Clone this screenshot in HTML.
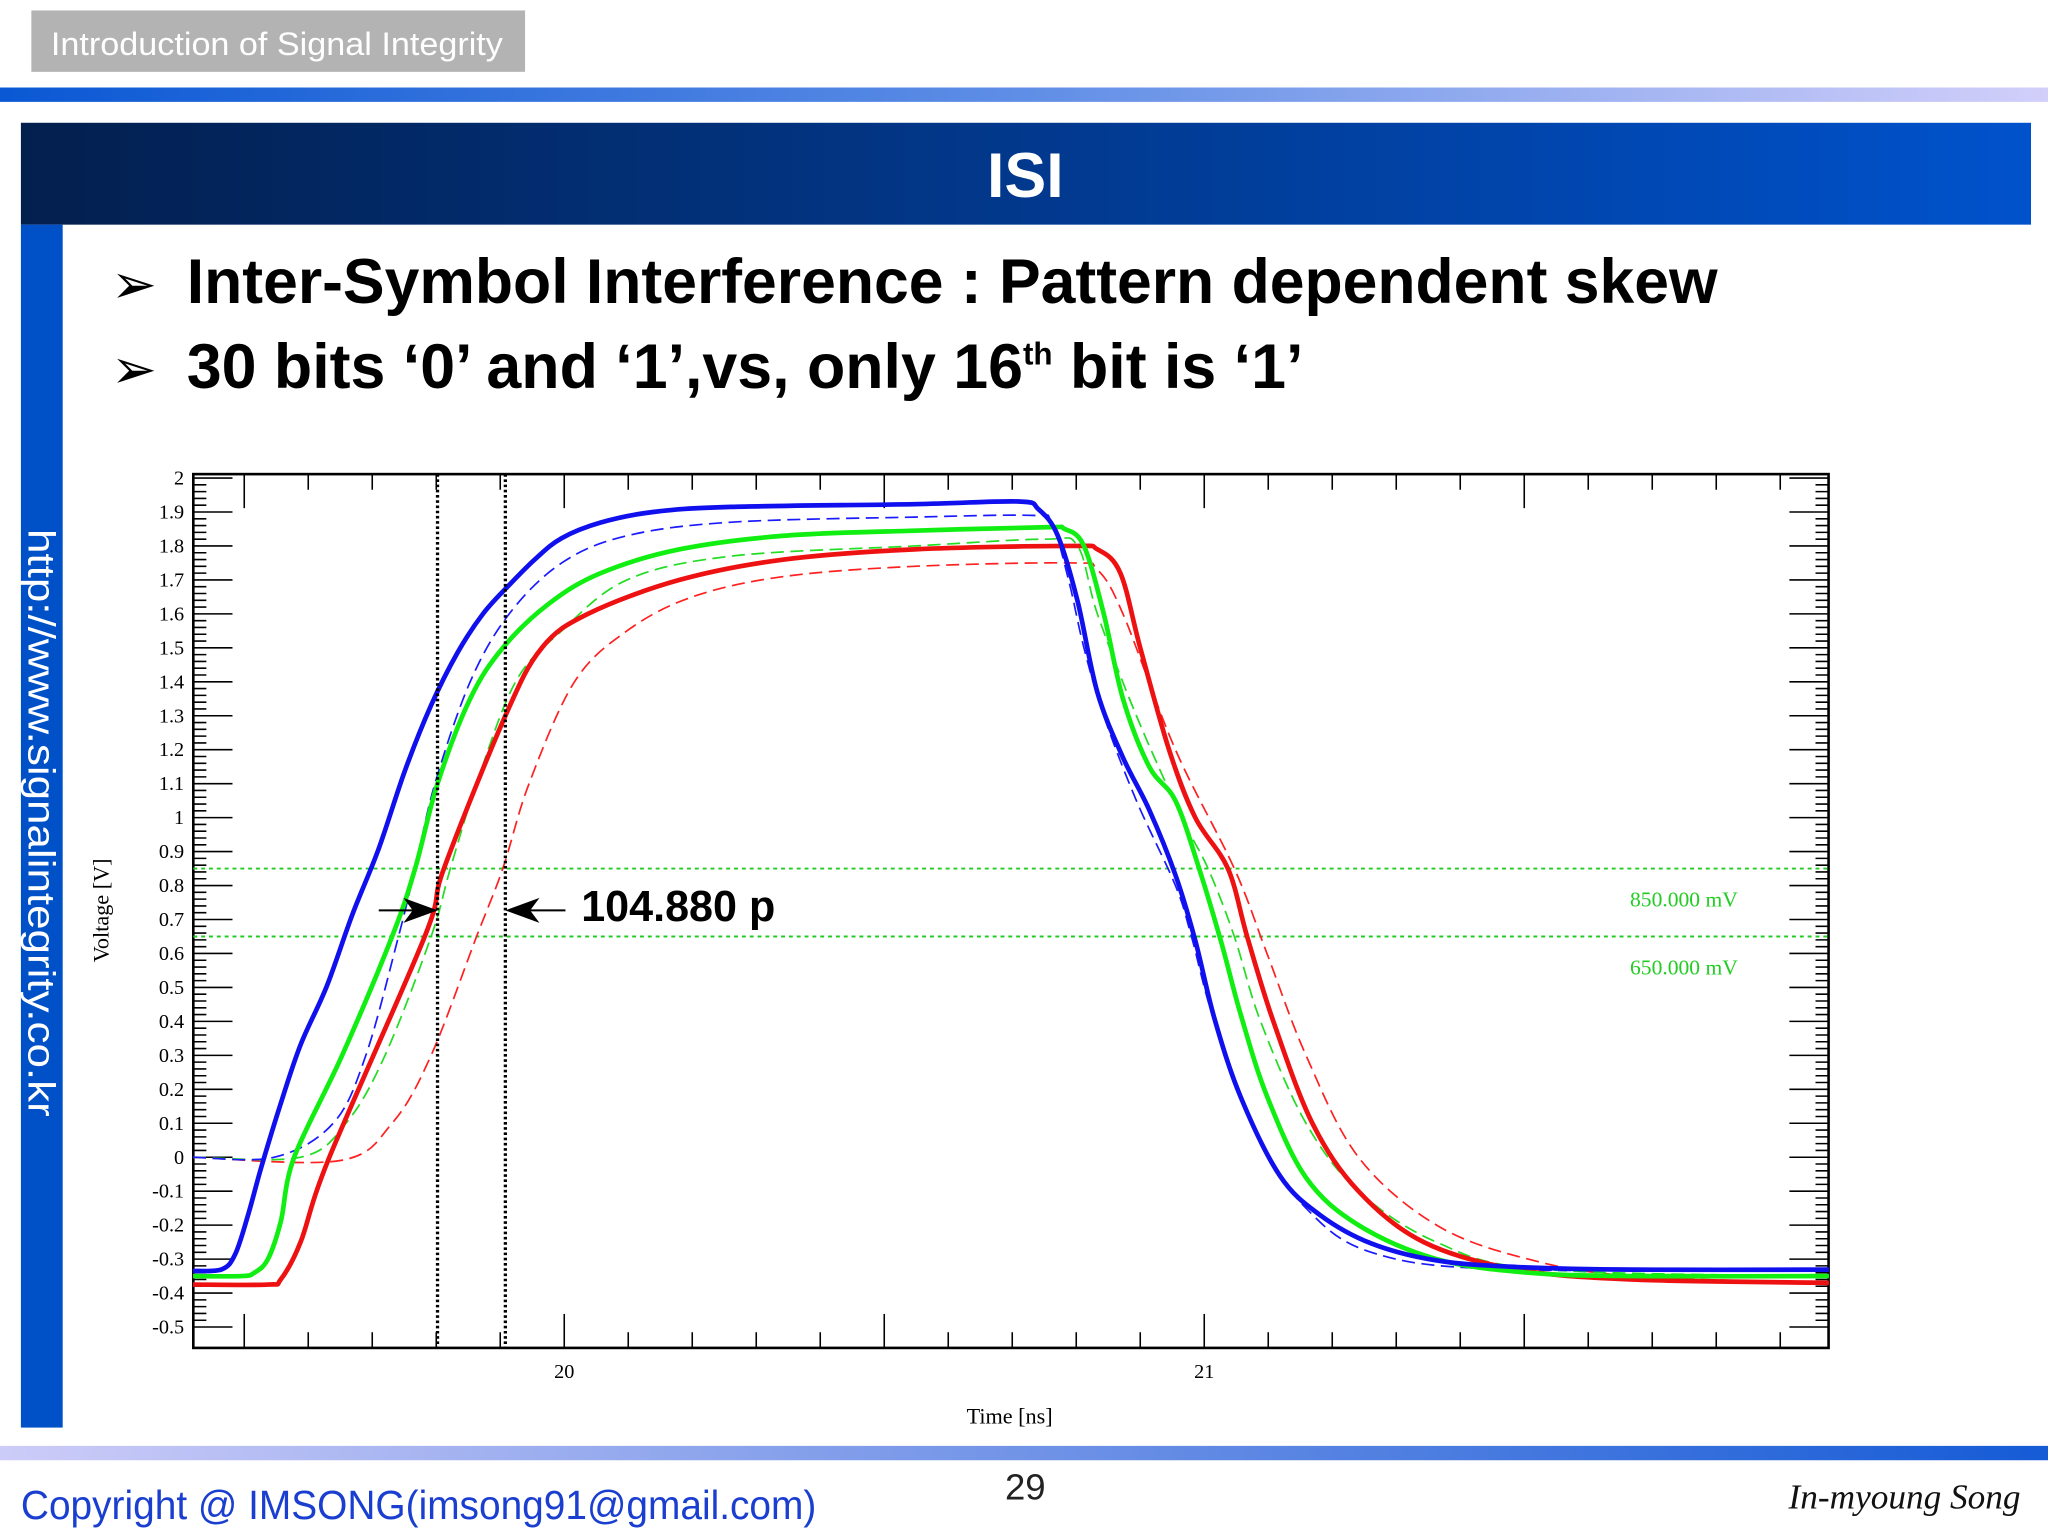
<!DOCTYPE html>
<html><head><meta charset="utf-8"><style>
html,body{margin:0;padding:0;background:#fff;}
svg{display:block;}
</style></head><body>
<svg id="root" width="2048" height="1536" viewBox="0 0 1568 1176" xmlns="http://www.w3.org/2000/svg">
<defs>
<linearGradient id="gTop" x1="0" x2="1" y1="0" y2="0"><stop offset="0" stop-color="#0a58d4"/><stop offset="0.5" stop-color="#5f8ee6"/><stop offset="1" stop-color="#d2cffa"/></linearGradient>
<linearGradient id="gTitle" x1="0" x2="1" y1="0" y2="0"><stop offset="0" stop-color="#031f4e"/><stop offset="1" stop-color="#0052cc"/></linearGradient>
<linearGradient id="gBot" x1="0" x2="1" y1="0" y2="0"><stop offset="0" stop-color="#cdccf8"/><stop offset="1" stop-color="#155bd6"/></linearGradient>
</defs>
<rect x="24" y="8" width="378" height="47" fill="#b3b3b3"/>
<text x="39" y="42" textLength="346" lengthAdjust="spacingAndGlyphs" font-family="Liberation Sans, sans-serif" font-size="25" fill="#fff">Introduction of Signal Integrity</text>
<rect x="0" y="67" width="1568" height="11" fill="url(#gTop)"/>
<rect x="16" y="94" width="1539" height="78" fill="url(#gTitle)"/>
<text x="785" y="151" text-anchor="middle" font-family="Liberation Sans, sans-serif" font-weight="bold" font-size="48" fill="#fff">ISI</text>
<rect x="16" y="172" width="32" height="921" fill="#0050c8"/>
<text transform="translate(22,405) rotate(90)" textLength="450" lengthAdjust="spacingAndGlyphs" font-family="Liberation Sans, sans-serif" font-size="29" fill="#fff">http://www.signalintegrity.co.kr</text>
<text x="85" y="232" font-family="DejaVu Sans, sans-serif" font-size="42" fill="#000">➢</text>
<text x="143" y="232" textLength="1172" lengthAdjust="spacingAndGlyphs" font-family="Liberation Sans, sans-serif" font-weight="bold" font-size="48" fill="#000">Inter-Symbol Interference : Pattern dependent skew</text>
<text x="85" y="297" font-family="DejaVu Sans, sans-serif" font-size="42" fill="#000">➢</text>
<text x="143" y="297" font-family="Liberation Sans, sans-serif" font-weight="bold" font-size="48" fill="#000">30 bits ‘0’ and ‘1’,vs, only 16<tspan font-size="24" dy="-18">th</tspan><tspan dy="18"> bit is ‘1’</tspan></text>
<g id="chart"></g>
<rect x="0" y="1107" width="1568" height="11" fill="url(#gBot)"/>
<text x="16" y="1163" textLength="609" lengthAdjust="spacingAndGlyphs" font-family="Liberation Sans, sans-serif" font-size="31" fill="#1a3fd0">Copyright @ IMSONG(imsong91@gmail.com)</text>
<text x="785" y="1148" text-anchor="middle" font-family="Liberation Sans, sans-serif" font-size="28" fill="#222">29</text>
<text x="1547" y="1155" text-anchor="end" font-family="Liberation Serif, serif" font-style="italic" font-size="27" fill="#111">In-myoung Song</text>
</svg>
<script>
const yTicks=[2,1.9,1.8,1.7,1.6,1.5,1.4,1.3,1.2,1.1,1,0.9,0.8,0.7,0.6,0.5,0.4,0.3,0.2,0.1,0,-0.1,-0.2,-0.3,-0.4,-0.5];
const xLabels=[20,21];
const thresholds=[0.85,0.65];
const thresholdLabels=["850.000 mV","650.000 mV"];
const markerTimes=[19.802,19.908];
const skewLabel="104.880 p";
const blueT=[19.42,19.465,19.486,19.506,19.527,19.557,19.588,19.629,19.669,19.71,19.751,19.792,19.833,19.873,19.914,19.955,19.996,20.057,20.139,20.261,20.547,20.71,20.741,20.771,20.802,20.833,20.873,20.914,20.955,20.986,21.016,21.057,21.118,21.18,21.261,21.363,21.486,21.669,21.976];
const blueV=[-0.335,-0.33,-0.285,-0.17,-0.027,0.158,0.331,0.504,0.715,0.908,1.138,1.331,1.485,1.6,1.685,1.762,1.823,1.869,1.9,1.915,1.923,1.931,1.908,1.831,1.638,1.369,1.177,1.023,0.831,0.638,0.408,0.177,-0.054,-0.169,-0.254,-0.304,-0.323,-0.331,-0.331];
const greenT=[19.42,19.496,19.516,19.537,19.557,19.578,19.653,19.731,19.767,19.802,19.853,19.904,19.976,20.057,20.18,20.343,20.547,20.751,20.782,20.812,20.843,20.873,20.914,20.955,20.992,21.027,21.057,21.098,21.159,21.241,21.363,21.506,21.669,21.976];
const greenV=[-0.35,-0.35,-0.34,-0.3,-0.19,0,0.3,0.65,0.85,1.1,1.35,1.5,1.63,1.72,1.79,1.83,1.845,1.855,1.85,1.8,1.6,1.35,1.15,1.05,0.85,0.63,0.42,0.18,-0.06,-0.2,-0.3,-0.34,-0.35,-0.35];
const redT=[19.42,19.537,19.557,19.588,19.633,19.782,19.812,19.908,19.965,20.037,20.18,20.343,20.547,20.792,20.833,20.869,20.9,20.945,20.986,21.037,21.067,21.108,21.169,21.241,21.343,21.486,21.669,21.976];
const redV=[-0.375,-0.375,-0.36,-0.25,0,0.65,0.85,1.3,1.5,1.6,1.7,1.76,1.79,1.8,1.79,1.72,1.5,1.2,1.0,0.85,0.65,0.4,0.1,-0.1,-0.25,-0.33,-0.36,-0.37];
const blueDT=[19.42,19.547,19.639,19.69,19.741,19.767,19.798,19.853,19.914,19.996,20.098,20.261,20.547,20.731,20.761,20.788,20.812,20.843,20.894,20.955,20.98,21.016,21.088,21.159,21.261,21.465,21.976];
const blueDV=[0,0,0.1,0.3,0.65,0.85,1.1,1.4,1.6,1.75,1.83,1.87,1.885,1.89,1.87,1.7,1.5,1.3,1.05,0.8,0.65,0.4,0.05,-0.15,-0.28,-0.33,-0.33];
const greenDT=[19.42,19.588,19.659,19.72,19.792,19.822,19.863,19.924,19.996,20.098,20.261,20.547,20.751,20.802,20.833,20.894,20.965,21.006,21.047,21.088,21.159,21.241,21.363,21.527,21.976];
const greenDV=[0,0,0.1,0.3,0.65,0.85,1.1,1.4,1.55,1.7,1.77,1.8,1.82,1.8,1.6,1.3,1.0,0.85,0.65,0.4,0.1,-0.1,-0.25,-0.33,-0.35];
const redDT=[19.42,19.649,19.731,19.792,19.863,19.904,19.945,20.016,20.098,20.2,20.343,20.547,20.792,20.833,20.873,20.955,21.047,21.098,21.159,21.241,21.363,21.506,21.669,21.976];
const redDV=[0,-0.01,0.1,0.3,0.65,0.85,1.1,1.4,1.55,1.65,1.71,1.74,1.75,1.73,1.6,1.2,0.85,0.6,0.3,0,-0.2,-0.3,-0.35,-0.37];

const NS='http://www.w3.org/2000/svg';
const L=148,R=1400,T=363,B=1032;
const xs=t=>432+(t-20)*490;
const ys=v=>886-v*260;
const g=document.getElementById('chart');
function mk(tag,attrs,parent){const e=document.createElementNS(NS,tag);for(const k in attrs)e.setAttribute(k,attrs[k]);(parent||g).appendChild(e);return e;}

let frame=mk('rect',{x:L,y:T,width:R-L,height:B-T,fill:'#fff',stroke:'#000','stroke-width':2});



let tk='';
for(let i=0;i<=125;i++){const v=-0.5+i*0.02;const y=ys(v);const major=(i%5===0);const len=major?30:10;
 tk+=`M${L} ${y}h${len}M${R} ${y}h${-len}`;}
for(let i=0;i<=25;i++){const t=19.5+i*0.1;const x=xs(t);if(x>R)break;const major=Math.abs((t*2)-Math.round(t*2))<1e-6;const len=major?26:12;
 tk+=`M${x} ${T}v${len}M${x} ${B}v${-len}`;}
let ticks=mk('path',{d:tk,stroke:'#000','stroke-width':1.2,fill:'none'});



yTicks.forEach(v=>{const e=mk('text',{x:141,y:ys(v)+5,'text-anchor':'end','font-family':'Liberation Serif, serif','font-size':15.5,fill:'#000'});e.textContent=String(v);
 
 });
xLabels.forEach(t=>{const e=mk('text',{x:xs(t),y:1055,'text-anchor':'middle','font-family':'Liberation Serif, serif','font-size':15.5,fill:'#000'});e.textContent=String(t);
 
 });
let xt=mk('text',{x:773,y:1090,'text-anchor':'middle','font-family':'Liberation Serif, serif','font-size':17,fill:'#000'});xt.textContent='Time [ns]';


let yt=mk('text',{transform:'translate(83,697) rotate(-90)','text-anchor':'middle','font-family':'Liberation Serif, serif','font-size':17,fill:'#000'});yt.textContent='Voltage [V]';



thresholds.forEach((v,i)=>{const l=mk('line',{x1:L,x2:R,y1:ys(v),y2:ys(v),stroke:'#22cc22','stroke-width':1.5,'stroke-dasharray':'3 3'});
 
 
 const e=mk('text',{x:1248,y:ys(v)+29,'font-family':'Liberation Serif, serif','font-size':16.5,fill:'#22cc22'});e.textContent=thresholdLabels[i];
 
 });

function smooth(T_,V_){const p=T_.map((t,i)=>[xs(t),ys(V_[i])]);let d=`M${p[0][0]} ${p[0][1]}`;
 for(let i=0;i<p.length-1;i++){const p0=p[i-1]||p[i],p1=p[i],p2=p[i+1],p3=p[i+2]||p2;
  const c1=[p1[0]+(p2[0]-p0[0])/6,p1[1]+(p2[1]-p0[1])/6],c2=[p2[0]-(p3[0]-p1[0])/6,p2[1]-(p3[1]-p1[1])/6];
  d+=`C${c1[0]} ${c1[1]} ${c2[0]} ${c2[1]} ${p2[0]} ${p2[1]}`;}return d;}
const series=[[redDT,redDV,'#ff2020',true,'red-dashed-series'],[greenDT,greenDV,'#22dd22',true,'green-dashed-series'],[blueDT,blueDV,'#1a1aff',true,'blue-dashed-series'],
 [redT,redV,'#ee1111',false,'red-series'],[greenT,greenV,'#11ee11',false,'green-series'],[blueT,blueV,'#1010ee',false,'blue-series']];
series.forEach(s=>{const a={d:smooth(s[0],s[1]),stroke:s[2],fill:'none','stroke-width':s[3]?1.3:3.6,'stroke-linejoin':'round'};if(s[3])a['stroke-dasharray']='10 5';
 const e=mk('path',a);
 
 });

markerTimes.forEach(t=>{const l=mk('line',{x1:xs(t),x2:xs(t),y1:T,y2:B,stroke:'#000','stroke-width':2.5,'stroke-dasharray':'2 2'});
 
 });
const ay=697;
let a1=mk('path',{d:`M${xs(markerTimes[0])-45} ${ay}H${xs(markerTimes[0])-2}M${xs(markerTimes[0])-2} ${ay}l-22 -8l6 8l-6 8z`,stroke:'#000','stroke-width':1.5,fill:'#000'});


let a2=mk('path',{d:`M${xs(markerTimes[1])+46} ${ay}H${xs(markerTimes[1])+2}M${xs(markerTimes[1])+2} ${ay}l22 -8l-6 8l6 8z`,stroke:'#000','stroke-width':1.5,fill:'#000'});


let sk=mk('text',{x:445,y:705,'font-family':'Liberation Sans, sans-serif','font-weight':'bold','font-size':33,fill:'#000'});sk.textContent=skewLabel;


</script>
</body></html>
